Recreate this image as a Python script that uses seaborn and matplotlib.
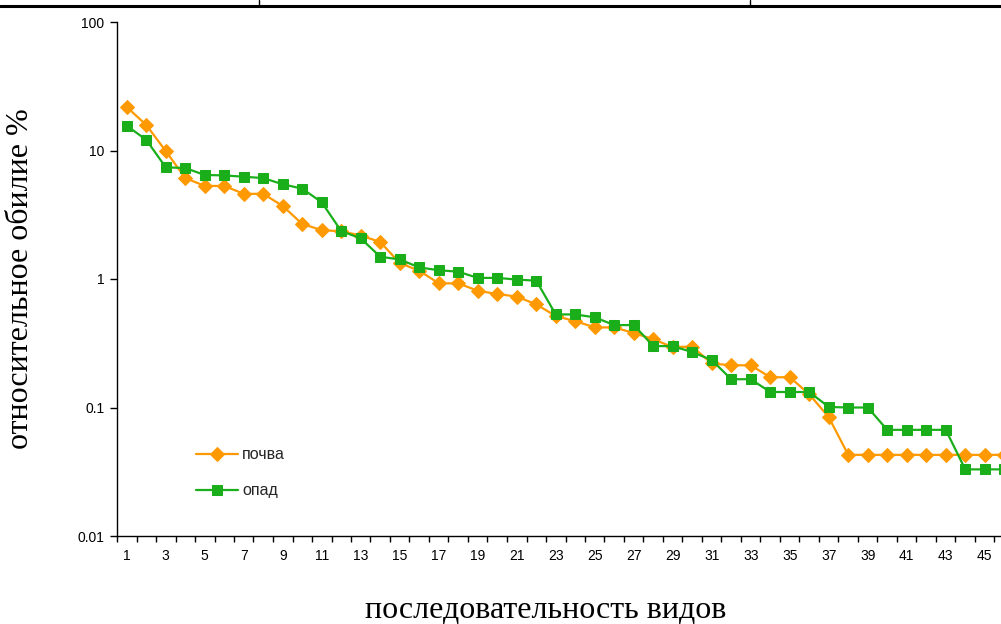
import numpy as np
import pandas as pd
import matplotlib
matplotlib.use("Agg")
import matplotlib.pyplot as plt
from matplotlib.lines import Line2D
from matplotlib.ticker import FixedLocator, NullLocator, FixedFormatter
import seaborn as sns

# ---- data ----
species_rank = list(range(1, 47))
soil = [21.8, 15.8, 9.9, 6.1, 5.3, 5.3, 4.6, 4.6, 3.7, 2.68,
        2.4, 2.35, 2.18, 1.94, 1.33, 1.16, 0.925, 0.925, 0.81, 0.764,
        0.73, 0.635, 0.515, 0.47, 0.42, 0.42, 0.38, 0.34, 0.295, 0.298,
        0.22, 0.213, 0.213, 0.172, 0.172, 0.127, 0.084, 0.0428, 0.0428, 0.0428,
        0.0428, 0.0428, 0.0428, 0.0428, 0.0428, 0.0428]
litter = [15.6, 12.1, 7.4, 7.3, 6.45, 6.4, 6.25, 6.1, 5.46, 5.05,
          3.95, 2.36, 2.07, 1.49, 1.42, 1.23, 1.17, 1.14, 1.02, 1.02,
          0.99, 0.97, 0.53, 0.53, 0.503, 0.438, 0.438, 0.301, 0.30, 0.27,
          0.234, 0.166, 0.166, 0.132, 0.132, 0.132, 0.101, 0.1, 0.1, 0.067,
          0.067, 0.067, 0.067, 0.033, 0.033, 0.033]
series_names = ["почва", "опад"]
y_ticks = [0.01, 0.1, 1, 10, 100]
y_ticklabels = ["0.01", "0.1", "1", "10", "100"]

df = pd.DataFrame({"rank": species_rank, series_names[0]: soil, series_names[1]: litter})

sns.set_theme(style="white")
plt.rcParams["font.family"] = ["Liberation Sans", "DejaVu Sans"]

W, H = 1001, 624
fig = plt.figure(figsize=(W / 100, H / 100), dpi=100)
left_px, bottom_px, top_px = 117, 536, 22
cat_w = 19.5
n = len(species_rank)
right_px = left_px + n * cat_w
ax = fig.add_axes([left_px / W, 1 - bottom_px / H, (right_px - left_px) / W, (bottom_px - top_px) / H])

orange = "#FF9900"
green = "#1AAF1A"
sns.lineplot(data=df, x="rank", y=series_names[0], ax=ax, color=orange, marker="D",
             markersize=7.5, markeredgecolor=orange, linewidth=1.6, label=series_names[0])
sns.lineplot(data=df, x="rank", y=series_names[1], ax=ax, color=green, marker="s",
             markersize=7.5, markeredgecolor=green, linewidth=1.6, label=series_names[1])

ax.set_yscale("log")
ax.set_ylim(0.01, 100)
ax.set_xlim(0.5, n + 0.5)
ax.yaxis.set_major_locator(FixedLocator(y_ticks))
ax.yaxis.set_major_formatter(FixedFormatter(y_ticklabels))
ax.yaxis.set_minor_locator(NullLocator())

odd = [r for r in species_rank if r % 2 == 1]
ax.set_xticks(odd)
ax.set_xticklabels([str(r) for r in odd])
ax.xaxis.set_minor_locator(FixedLocator([r + 0.5 for r in range(0, n + 1)]))
ax.tick_params(axis="x", which="major", length=0, pad=9, labelsize=10, colors="black")
ax.tick_params(axis="x", which="minor", length=4, width=1, direction="out", bottom=True, color="black")
ax.tick_params(axis="y", which="major", length=5, width=1, direction="out", left=True,
               labelsize=10, colors="black", pad=4)

for s in ["top", "right"]:
    ax.spines[s].set_visible(False)
for s in ["left", "bottom"]:
    ax.spines[s].set_color("black")
    ax.spines[s].set_linewidth(1.0)

ax.set_xlabel("")
ax.set_ylabel("")

serif = ["Liberation Serif", "DejaVu Serif"]
fig.text(546 / W, 1 - 610 / H, "последовательность видов", ha="center", va="center",
         fontsize=23, family=serif, color="black")
fig.text(21 / W, 1 - 279 / H, "относительное обилие %", ha="center", va="center",
         rotation=90, fontsize=23, family=serif, color="black")

leg = ax.legend(loc="upper left", bbox_to_anchor=((190 - left_px) / (right_px - left_px),
                1 - (441 - top_px) / (bottom_px - top_px)),
                frameon=False, fontsize=11.5, handlelength=2.6, labelspacing=1.3,
                handletextpad=0.25, borderaxespad=0)

# top table border
fig.add_artist(Line2D([0, 1], [1 - 6 / H, 1 - 6 / H], color="black", linewidth=2.2))
for xp in [258.5, 749.5]:
    fig.add_artist(Line2D([xp / W, xp / W], [1, 1 - 6 / H], color="black", linewidth=1.0))

fig.savefig("out.png", dpi=100)
